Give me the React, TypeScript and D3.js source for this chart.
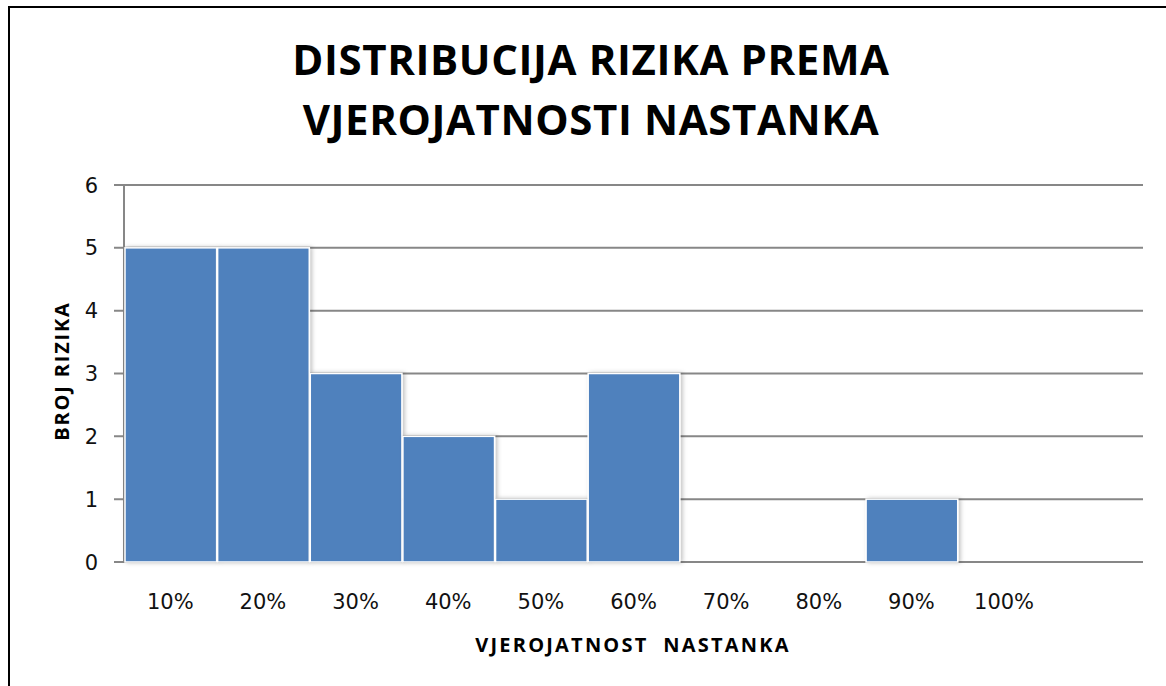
import { useEffect, useRef } from 'react';
import * as d3 from 'd3';

// bins of the histogram (last one is the unlabeled overflow bin)
const categories = ['10%', '20%', '30%', '40%', '50%', '60%', '70%', '80%', '90%', '100%', ''];
const counts = [5, 5, 3, 2, 1, 3, 0, 0, 1, 0, 0];
const yTicks = [0, 1, 2, 3, 4, 5, 6];
const titleLines = ['DISTRIBUCIJA RIZIKA PREMA', 'VJEROJATNOSTI NASTANKA'];

const W = 1166;
const H = 686;

export default function App() {
  const svgRef = useRef<SVGSVGElement>(null);

  useEffect(() => {
    if (!svgRef.current) return;
    const svg = d3.select(svgRef.current);
    svg.selectAll('*').remove();

    const margin = { top: 185, right: 23, bottom: 124, left: 124 };

    const x = d3.scaleBand()
      .domain(categories.map((c, i) => String(i)))
      .range([margin.left, W - margin.right])
      .padding(0);

    const y = d3.scaleLinear()
      .domain([0, 6])
      .range([H - margin.bottom, margin.top]);

    const defs = svg.append('defs');
    const shadow = defs.append('filter')
      .attr('id', 'bar-shadow')
      .attr('x', '-10%').attr('y', '-10%')
      .attr('width', '130%').attr('height', '130%');
    shadow.append('feDropShadow')
      .attr('dx', 2).attr('dy', 0)
      .attr('stdDeviation', 2)
      .attr('flood-color', '#000')
      .attr('flood-opacity', 0.25);

    // outer frame
    svg.append('rect')
      .attr('x', 9).attr('y', 7)
      .attr('width', W + 20).attr('height', H + 20)
      .attr('fill', '#fff')
      .attr('stroke', '#000')
      .attr('stroke-width', 2);

    // title
    svg.append('g')
      .selectAll('text')
      .data(titleLines)
      .join('text')
      .attr('x', 591)
      .attr('y', (d, i) => 75 + i * 60)
      .attr('text-anchor', 'middle')
      .style('font-family', '"Open Sans", sans-serif')
      .style('font-weight', 700)
      .style('font-size', '42px')
      .style('letter-spacing', '0.6px')
      .style('fill', '#000')
      .text(d => d);

    // gridlines
    svg.append('g')
      .selectAll('line')
      .data(yTicks)
      .join('line')
      .attr('x1', margin.left - 10)
      .attr('x2', W - margin.right)
      .attr('y1', d => y(d))
      .attr('y2', d => y(d))
      .attr('stroke', '#878787')
      .attr('stroke-width', 2);

    // y axis line
    svg.append('line')
      .attr('x1', margin.left).attr('x2', margin.left)
      .attr('y1', y(6)).attr('y2', y(0))
      .attr('stroke', '#878787')
      .attr('stroke-width', 2);

    // bars
    svg.append('g')
      .selectAll('rect')
      .data(counts)
      .join('rect')
      .attr('x', (d, i) => (x(String(i)) || 0) + 1)
      .attr('y', d => y(d))
      .attr('width', x.bandwidth() - 1)
      .attr('height', d => y(0) - y(d))
      .attr('fill', '#4f81bd')
      .attr('stroke', '#fff')
      .attr('stroke-width', 1.5)
      .attr('filter', 'url(#bar-shadow)');

    // y tick labels
    svg.append('g')
      .selectAll('text')
      .data(yTicks)
      .join('text')
      .attr('x', 98)
      .attr('y', d => y(d))
      .attr('dy', '0.36em')
      .attr('text-anchor', 'end')
      .style('font-family', '"DejaVu Sans", Verdana, sans-serif')
      .style('font-size', '21px')
      .style('fill', '#111')
      .text(d => d);

    // x tick labels
    svg.append('g')
      .selectAll('text')
      .data(categories)
      .join('text')
      .attr('x', (d, i) => (x(String(i)) || 0) + x.bandwidth() / 2)
      .attr('y', 609)
      .attr('text-anchor', 'middle')
      .style('font-family', '"DejaVu Sans", Verdana, sans-serif')
      .style('font-size', '21px')
      .style('fill', '#111')
      .text(d => d);

    // axis titles
    svg.append('text')
      .attr('x', 633)
      .attr('y', 652)
      .attr('text-anchor', 'middle')
      .style('font-family', '"Open Sans", sans-serif')
      .style('font-weight', 700)
      .style('font-size', '20px')
      .style('letter-spacing', '2.2px')
      .style('white-space', 'pre')
      .attr('xml:space', 'preserve')
      .text('VJEROJATNOST  NASTANKA');

    svg.append('text')
      .attr('transform', `translate(69,371) rotate(-90)`)
      .attr('text-anchor', 'middle')
      .style('font-family', '"Open Sans", sans-serif')
      .style('font-weight', 700)
      .style('font-size', '20px')
      .style('letter-spacing', '1.8px')
      .text('BROJ RIZIKA');
  }, []);

  return (
    <svg
      ref={svgRef}
      width={W}
      height={H}
      style={{ position: 'absolute', left: 0, top: 0, background: '#fff' }}
    />
  );
}
